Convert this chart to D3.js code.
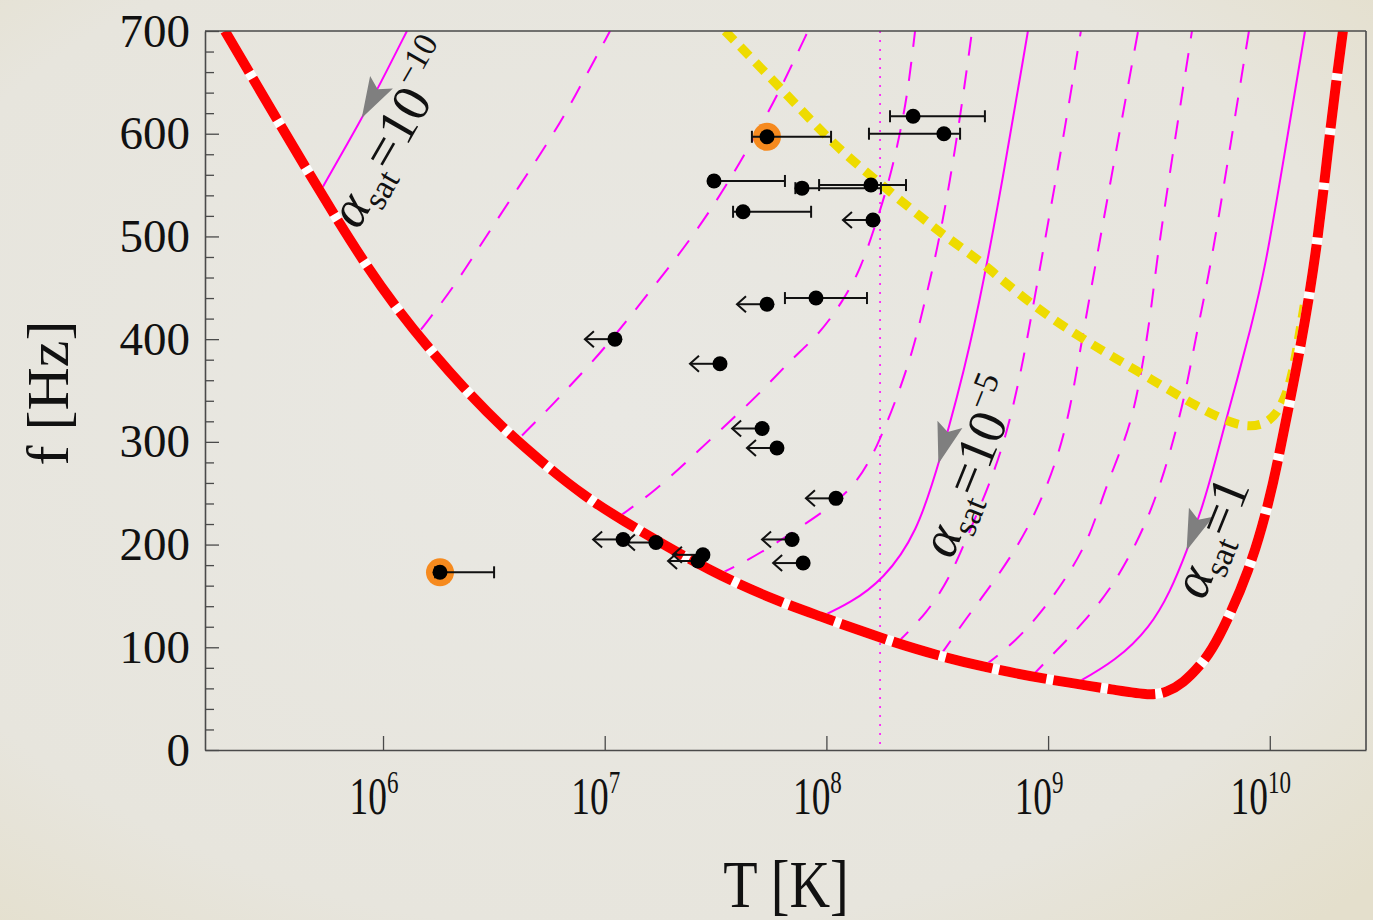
<!DOCTYPE html>
<html>
<head>
<meta charset="utf-8">
<script src="https://cdn.jsdelivr.net/npm/d3@7"></script>
<style>
  html, body { margin: 0; padding: 0; background: #e8e6df; }
  svg { display: block; }
  text { font-family: "Liberation Serif", "DejaVu Serif", serif; fill: #111; }
</style>
</head>
<body>
<svg id="chart" width="1373" height="920"></svg>
<script>
// all curves: log10(T [K]) against f [Hz]

// instability window boundary (red)
const windowLogT = [5.287, 5.865, 6.077, 6.189, 6.361, 6.537, 6.717, 6.902, 7.114, 7.489, 7.791, 7.985,
  8.106, 8.409, 8.706, 9.009, 9.311, 9.460, 9.536, 9.609, 9.685, 9.762, 9.911, 10.001, 10.046, 10.091,
  10.136, 10.213, 10.276, 10.330];
const windowF = [700, 488, 425.8, 395.7, 352.9, 314, 280, 247.9, 218.8, 172.1, 143.9, 129.3,
  119.6, 97.2, 80.7, 68.1, 58.3, 53, 56, 65.1, 81.7, 104, 175, 245, 291.7, 340.3,
  388.9, 486.1, 612.5, 700];

// yellow dotted curve
const yellowLogT = [7.543, 7.849, 8.030, 8.210, 8.391, 8.544, 8.693, 8.783, 9.009, 9.266, 9.460, 9.685,
  9.820, 9.911, 10.001, 10.060, 10.100, 10.136, 10.159];
const yellowF = [700, 631.9, 590.1, 557.1, 525, 498.7, 476.4, 458.9, 420, 386, 361.7, 332.5,
  318.9, 314, 318.9, 337.4, 362.6, 408.3, 437.5];

// spin-down trajectories, one per alpha_sat
const sat1e10LogT = [5.725, 5.905, 5.986, 6.108];
const sat1e10F = [547, 615, 648, 700];
const sat1e9LogT = [6.171, 6.325, 6.474, 6.767, 6.884, 7.024];
const sat1e9F = [409.3, 452.1, 503.6, 597.9, 643.6, 700];
const sat1e8LogT = [6.627, 6.740, 6.853, 6.992, 7.182, 7.385, 7.565, 7.755, 7.836, 7.917];
const sat1e8F = [306.2, 330.6, 356.8, 388.9, 440.4, 495.8, 554.2, 627.1, 663.1, 700];
const sat1e7LogT = [7.060, 7.213, 7.367, 7.520, 7.700, 7.836, 7.971, 8.075, 8.152, 8.228, 8.287, 8.332, 8.368, 8.400];
const sat1e7F = [226.5, 249.9, 280, 311.1, 347.1, 379.2, 405.4, 437.5, 466.7, 515.3, 557.1, 599.9, 641.7, 700];
const sat1e6LogT = [7.507, 7.610, 7.746, 7.881, 8.016, 8.138, 8.228, 8.314, 8.391, 8.445, 8.499, 8.558, 8.612, 8.657];
const sat1e6F = [170.1, 180.8, 197.4, 216.8, 236.2, 259.6, 294.6, 340.3, 388.9, 437.5, 486.1, 554.2, 629, 700];
const sat1e5LogT = [7.971, 8.106, 8.255, 8.409, 8.512, 8.648, 8.774, 8.909];
const sat1e5F = [129.3, 142.9, 165.3, 211, 281.9, 388.9, 527.9, 700];
const sat1e4LogT = [8.309, 8.454, 8.558, 8.634, 8.738, 8.815, 8.887, 8.977, 9.067, 9.148];
const sat1e4F = [102.1, 133.2, 168.2, 207.1, 259.6, 308.2, 376.3, 486.1, 593.1, 700];
const sat1e3LogT = [8.512, 8.634, 8.751, 8.860, 8.950, 9.040, 9.099, 9.144, 9.221, 9.315, 9.406];
const sat1e3F = [91.4, 129.3, 162.4, 197.4, 233.3, 281.9, 330.6, 388.9, 481.2, 593.1, 700];
const sat1e2LogT = [8.706, 8.860, 8.977, 9.085, 9.189, 9.257, 9.342, 9.397, 9.460, 9.491, 9.568, 9.649];
const sat1e2F = [80.7, 106.9, 136.1, 168.2, 207.1, 254.7, 298.5, 337.4, 418.1, 479.3, 588.2, 700];
const sat1e1LogT = [8.918, 9.040, 9.157, 9.279, 9.383, 9.460, 9.527, 9.577, 9.622, 9.672, 9.730, 9.811, 9.906];
const sat1e1F = [70, 97.2, 123.5, 155.6, 194.4, 230.4, 272.2, 311.1, 350, 408.3, 466.7, 573.6, 700];
const sat1LogT = [9.112, 9.311, 9.460, 9.550, 9.627, 9.699, 9.753, 9.802, 9.852, 9.911, 9.978, 10.069, 10.159];
const sat1F = [63.2, 87.5, 119.6, 153.6, 194.4, 238.2, 280, 320.8, 359.7, 408.3, 466.7, 583.3, 700];

// vertical dotted line
const dottedLogT = 8.242;

// observed sources
const srcLogT = [8.391, 8.530, 7.732, 7.493, 7.890, 8.201, 7.624, 8.210, 7.953, 7.732, 7.046,
  7.520, 7.710, 7.777, 8.043, 7.845, 7.895, 7.231, 7.083, 7.443, 7.421, 6.257];
const srcF = [617, 600, 597, 554, 547, 550, 524, 516, 440, 434, 400,
  376, 313, 294, 245, 205, 182, 202, 205, 190, 184, 173];
const srcLoLogT = [8.287, 8.192, 7.664, 7.475, 7.860, 7.967, 7.579, null, 7.813, null, null,
  null, null, null, null, null, null, null, null, null, null, 6.235];
const srcHiLogT = [8.715, 8.603, 8.021, 7.813, 8.246, 8.359, 7.931, null, 8.183, null, null,
  null, null, null, null, null, null, null, null, null, null, 6.501];
const srcHighlight = [false, false, true, false, false, false, false, false, false, false, false,
  false, false, false, false, false, false, false, false, false, false, true];

const xTickLogT = [6, 7, 8, 9, 10];

// alpha_sat labels: baseline start, rotation, value and exponent text
const labelLogT = [5.887, 8.567, 9.703];
const labelF = [505.6, 184.7, 144.9];
const labelAngle = [-60, -68, -68];
const labelValue = ["10", "10", "1"];
const labelExp = ["\u221210", "\u22125", ""];
// arrowhead tips on the solid trajectories (f at tip)
const arrowTipF = [615, 279, 194];

const svg = d3.select("#chart");
const W = 1373, H = 920;

const defs = svg.append("defs");
const grad = defs.append("radialGradient").attr("id", "bg").attr("cx", "45%").attr("cy", "45%").attr("r", "75%");
grad.append("stop").attr("offset", "0%").attr("stop-color", "#e9e8e3");
grad.append("stop").attr("offset", "75%").attr("stop-color", "#e7e5dd");
grad.append("stop").attr("offset", "100%").attr("stop-color", "#e4dfcc");
svg.append("rect").attr("width", W).attr("height", H).attr("fill", "url(#bg)");

const x = d3.scaleLog().domain([10 ** 5.197, 10 ** 10.434]).range([205, 1366]);
const y = d3.scaleLinear().domain([0, 700]).range([750, 31]);

defs.append("clipPath").attr("id", "plot")
  .append("rect").attr("x", 205).attr("y", 31).attr("width", 1161).attr("height", 719);

const line = d3.line()
  .x(d => x(10 ** d[0]))
  .y(d => y(d[1]))
  .curve(d3.curveBasis);

const zip = (a, b) => a.map((v, i) => [v, b[i]]);

const plot = svg.append("g").attr("clip-path", "url(#plot)");

// dotted vertical
plot.append("line")
  .attr("x1", x(10 ** dottedLogT)).attr("x2", x(10 ** dottedLogT))
  .attr("y1", y(700)).attr("y2", y(0))
  .attr("stroke", "#ff00ff").attr("stroke-width", 1.5)
  .attr("stroke-dasharray", "2,7");

const trajectories = [
  { t: sat1e10LogT, f: sat1e10F, solid: true },
  { t: sat1e9LogT, f: sat1e9F, solid: false },
  { t: sat1e8LogT, f: sat1e8F, solid: false },
  { t: sat1e7LogT, f: sat1e7F, solid: false },
  { t: sat1e6LogT, f: sat1e6F, solid: false },
  { t: sat1e5LogT, f: sat1e5F, solid: true },
  { t: sat1e4LogT, f: sat1e4F, solid: false },
  { t: sat1e3LogT, f: sat1e3F, solid: false },
  { t: sat1e2LogT, f: sat1e2F, solid: false },
  { t: sat1e1LogT, f: sat1e1F, solid: false },
  { t: sat1LogT, f: sat1F, solid: true }
];

const trajPaths = trajectories.map(c =>
  plot.append("path")
    .attr("d", line(zip(c.t, c.f)))
    .attr("fill", "none")
    .attr("stroke", "#ff00ff")
    .attr("stroke-width", 2)
    .attr("stroke-dasharray", c.solid ? null : "19,15")
);

// yellow dotted
plot.append("path")
  .attr("d", line(zip(yellowLogT, yellowF)))
  .attr("fill", "none")
  .attr("stroke", "#eedb00")
  .attr("stroke-width", 9)
  .attr("stroke-dasharray", "13,9");

// red window with white gaps
const redD = line(zip(windowLogT, windowF));
plot.append("path").attr("d", redD).attr("fill", "none")
  .attr("stroke", "#ffffff").attr("stroke-width", 10);
plot.append("path").attr("d", redD).attr("fill", "none")
  .attr("stroke", "#ff0000").attr("stroke-width", 10)
  .attr("stroke-dasharray", "48,7");

// frame and axes
const frameColor = "#4a4a4a";
const yAxis = svg.append("g").attr("transform", "translate(205,0)")
  .call(d3.axisLeft(y).tickValues(d3.range(0, 701, 20))
    .tickSizeInner(-9).tickSizeOuter(0).tickPadding(15)
    .tickFormat(d => (d % 100 === 0 ? d : "")));
yAxis.selectAll(".tick line").filter(d => d % 100 === 0).attr("x2", 14);
yAxis.selectAll(".tick text").style("font-family", "'Liberation Serif', serif")
  .style("font-size", "47px").attr("fill", "#111");

const xAxis = svg.append("g").attr("transform", "translate(0,750)")
  .call(d3.axisBottom(x).tickValues(xTickLogT.map(v => 10 ** v))
    .tickSizeInner(-14).tickSizeOuter(0).tickFormat(""));
xAxis.selectAll(".tick text").remove();

[yAxis, xAxis].forEach(a => {
  a.select(".domain").attr("stroke", frameColor).attr("stroke-width", 1.6);
  a.selectAll(".tick line").attr("stroke", frameColor).attr("stroke-width", 1.3);
});
svg.append("line").attr("x1", 205).attr("x2", 1366).attr("y1", 31).attr("y2", 31)
  .attr("stroke", frameColor).attr("stroke-width", 1.6);
svg.append("line").attr("x1", 1366).attr("x2", 1366).attr("y1", 31).attr("y2", 750)
  .attr("stroke", frameColor).attr("stroke-width", 1.6);

// x tick labels 10^n, condensed
xTickLogT.forEach(v => {
  const g = svg.append("g")
    .attr("transform", `translate(${x(10 ** v) - 9},814) scale(0.72,1)`);
  const t = g.append("text").attr("text-anchor", "middle").style("font-size", "52px");
  t.append("tspan").text("10");
  t.append("tspan").attr("dy", -21).style("font-size", "32px").text(v);
});

// axis titles
svg.append("g").attr("transform", "translate(786,907) scale(0.84,1)")
  .append("text").attr("text-anchor", "middle").style("font-size", "67px").text("T [K]");
svg.append("text")
  .attr("transform", "translate(68,393) rotate(-90)")
  .attr("text-anchor", "middle").style("font-size", "60px").text("f [Hz]");

// arrowheads on solid trajectories
[0, 5, 10].forEach((ci, k) => {
  const node = trajPaths[ci].node();
  const len = node.getTotalLength();
  const ty = y(arrowTipF[k]);
  let best = 0, bestD = Infinity;
  for (let l = 0; l <= len; l += 0.5) {
    const p = node.getPointAtLength(l);
    const dd = Math.abs(p.y - ty);
    if (dd < bestD) { bestD = dd; best = l; }
  }
  const tip = node.getPointAtLength(best);
  const back = node.getPointAtLength(Math.min(len, best + 6));
  const ang = Math.atan2(tip.y - back.y, tip.x - back.x) * 180 / Math.PI;
  svg.append("path")
    .attr("d", "M0,0 L-41,-13 L-33,0 L-41,13 Z")
    .attr("transform", `translate(${tip.x},${tip.y}) rotate(${ang})`)
    .attr("fill", "#7f7f7f");
});

// alpha_sat labels
labelLogT.forEach((v, i) => {
  const t = svg.append("text")
    .attr("transform", `translate(${x(10 ** v)},${y(labelF[i])}) rotate(${labelAngle[i]})`)
    .style("font-size", "54px");
  t.append("tspan").style("font-style", "italic").text("\u03b1");
  t.append("tspan").attr("dy", 11).style("font-size", "34px").text("sat");
  t.append("tspan").attr("dy", -11).text("=");
  t.append("tspan").text(labelValue[i]);
  if (labelExp[i]) t.append("tspan").attr("dy", -24).style("font-size", "34px").text(labelExp[i]);
});

// sources
const src = srcLogT.map((v, i) => ({
  t: v, f: srcF[i], lo: srcLoLogT[i], hi: srcHiLogT[i], hl: srcHighlight[i]
}));
const pts = svg.append("g");
pts.selectAll("circle.halo").data(src.filter(d => d.hl)).join("circle")
  .attr("class", "halo")
  .attr("cx", d => x(10 ** d.t)).attr("cy", d => y(d.f)).attr("r", 14)
  .attr("fill", "#f68a1e");

const withErr = src.filter(d => d.lo !== null);
pts.selectAll("line.err").data(withErr).join("line").attr("class", "err")
  .attr("x1", d => x(10 ** d.lo)).attr("x2", d => x(10 ** d.hi))
  .attr("y1", d => y(d.f)).attr("y2", d => y(d.f))
  .attr("stroke", "#111").attr("stroke-width", 2);
withErr.forEach(d => {
  [d.lo, d.hi].forEach(e => {
    pts.append("line")
      .attr("x1", x(10 ** e)).attr("x2", x(10 ** e))
      .attr("y1", y(d.f) - 6).attr("y2", y(d.f) + 6)
      .attr("stroke", "#111").attr("stroke-width", 2);
  });
});

const limits = src.filter(d => d.lo === null);
limits.forEach(d => {
  const px = x(10 ** d.t), py = y(d.f), tx = px - 30;
  pts.append("line").attr("x1", px).attr("x2", tx).attr("y1", py).attr("y2", py)
    .attr("stroke", "#111").attr("stroke-width", 2);
  pts.append("path").attr("d", `M${tx + 9},${py - 8} L${tx},${py} L${tx + 9},${py + 8}`)
    .attr("fill", "none").attr("stroke", "#111").attr("stroke-width", 2);
});

pts.selectAll("circle.dot").data(src).join("circle").attr("class", "dot")
  .attr("cx", d => x(10 ** d.t)).attr("cy", d => y(d.f)).attr("r", 7.5)
  .attr("fill", "#000");
</script>
</body>
</html>
